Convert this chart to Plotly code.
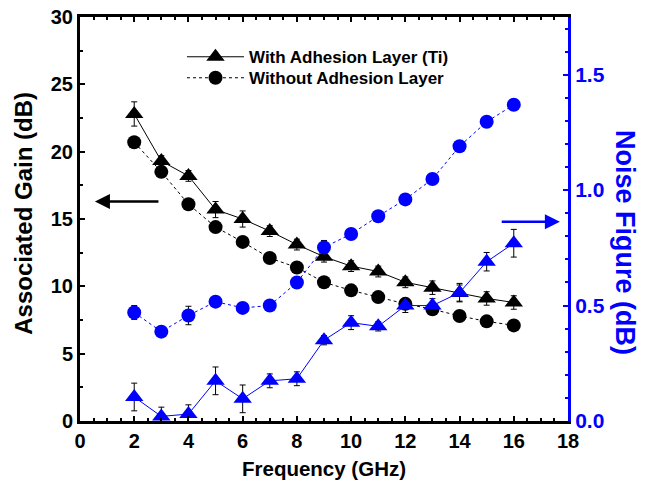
import plotly.graph_objects as go

freq = [2, 3, 4, 5, 6, 7, 8, 9, 10, 11, 12, 13, 14, 15, 16]
gain_with = [22.8, 19.3, 18.2, 15.7, 15.0, 14.1, 13.1, 12.2, 11.5, 11.1, 10.3, 9.9, 9.5, 9.1, 8.8]
gain_with_err = [0.9, 0.4, 0.4, 0.6, 0.6, 0.4, 0.4, 0.4, 0.4, 0.4, 0.4, 0.5, 0.6, 0.5, 0.5]
gain_without = [20.7, 18.5, 16.1, 14.4, 13.3, 12.1, 11.4, 10.3, 9.7, 9.2, 8.7, 8.3, 7.8, 7.4, 7.1]
gain_without_err = [0.2, 0.2, 0.2, 0.2, 0.2, 0.2, 0.2, 0.2, 0.2, 0.2, 0.2, 0.2, 0.2, 0.2, 0.2]
nf_without = [0.47, 0.387, 0.457, 0.517, 0.49, 0.50, 0.60, 0.752, 0.81, 0.887, 0.96, 1.048, 1.19, 1.296, 1.37]
nf_without_err = [0.03, 0.01, 0.04, 0.005, 0.01, 0.015, 0.015, 0.03, 0.02, 0.01, 0.01, 0.02, 0.01, 0.02, 0.015]
nf_with = [0.104, 0.02, 0.03, 0.174, 0.096, 0.174, 0.183, 0.35, 0.426, 0.41, 0.50, 0.50, 0.556, 0.69, 0.77]
nf_with_err = [0.06, 0.04, 0.04, 0.06, 0.06, 0.03, 0.03, 0.02, 0.03, 0.02, 0.03, 0.03, 0.04, 0.04, 0.06]

FONT = "Liberation Sans, Arial, sans-serif"
BLUE = "#0000ff"

fig = go.Figure()

fig.add_trace(go.Scatter(
    x=freq, y=nf_without, yaxis="y2", mode="lines+markers", showlegend=False,
    line=dict(color=BLUE, width=1, dash="dot"),
    marker=dict(symbol="circle", size=14, color=BLUE),
    error_y=dict(type="data", array=nf_without_err, color="black", thickness=1, width=3),
))
fig.add_trace(go.Scatter(
    x=freq, y=nf_with, yaxis="y2", mode="lines+markers", showlegend=False,
    line=dict(color=BLUE, width=1),
    marker=dict(symbol="triangle-up", size=16, color=BLUE),
    error_y=dict(type="data", array=nf_with_err, color="black", thickness=1, width=3),
))
fig.add_trace(go.Scatter(
    x=freq, y=gain_with, mode="lines+markers", name="With Adhesion Layer (Ti)",
    legend="legend",
    line=dict(color="black", width=1),
    marker=dict(symbol="triangle-up", size=16, color="black"),
    error_y=dict(type="data", array=gain_with_err, color="black", thickness=1, width=3),
))
fig.add_trace(go.Scatter(
    x=freq, y=gain_without, mode="lines+markers", name="Without Adhesion Layer",
    legend="legend2",
    line=dict(color="black", width=1, dash="dot"),
    marker=dict(symbol="circle", size=14, color="black"),
    error_y=dict(type="data", array=gain_without_err, color="black", thickness=1, width=3),
))

tickfont = dict(family=FONT, size=20, color="black", weight="bold")
legfont = dict(family=FONT, size=17, color="black", weight="bold")

fig.update_layout(
    width=648, height=493,
    margin=dict(l=80, r=80, t=17, b=72),
    paper_bgcolor="white", plot_bgcolor="white",
    font=dict(family=FONT, color="black"),
    xaxis=dict(
        range=[0, 18], dtick=2, showgrid=False, zeroline=False, automargin=False,
        showline=True, linecolor="black", linewidth=3, mirror="ticks",
        ticks="inside", ticklen=5, tickwidth=2, tickcolor="black",
        minor=dict(dtick=0.5, ticks="inside", ticklen=3, tickwidth=2, tickcolor="black"),
        tickfont=tickfont,
    ),
    yaxis=dict(
        range=[0, 30], dtick=5, showgrid=False, zeroline=False, automargin=False,
        showline=True, linecolor="black", linewidth=3,
        ticks="inside", ticklen=5, tickwidth=2, tickcolor="black",
        minor=dict(dtick=2.5, ticks="inside", ticklen=3, tickwidth=2, tickcolor="black"),
        tickfont=tickfont,
    ),
    yaxis2=dict(
        overlaying="y", side="right", range=[0, 1.75], dtick=0.5, tickformat=".1f",
        showgrid=False, zeroline=False, automargin=False,
        showline=True, linecolor=BLUE, linewidth=3,
        ticks="inside", ticklen=5, tickwidth=2, tickcolor=BLUE,
        minor=dict(dtick=0.1, ticks="inside", ticklen=3, tickwidth=2, tickcolor=BLUE),
        tickfont=dict(family=FONT, size=21, color=BLUE, weight="bold"),
    ),
    legend=dict(
        x=0.209, y=0.945, xanchor="left", yanchor="top",
        bgcolor="rgba(0,0,0,0)", borderwidth=0, font=legfont, itemwidth=57,
    ),
    legend2=dict(
        x=0.209, y=0.893, xanchor="left", yanchor="top",
        bgcolor="rgba(0,0,0,0)", borderwidth=0, font=legfont, itemwidth=57,
    ),
    showlegend=True,
)

fig.add_annotation(
    x=0.55, y=16.3, ax=2.95, ay=16.3, xref="x", yref="y", axref="x", ayref="y",
    text="", showarrow=True, arrowhead=2, arrowsize=1.2, arrowwidth=2.5, arrowcolor="black",
)
fig.add_annotation(
    x=17.7, y=14.8, ax=15.5, ay=14.8, xref="x", yref="y", axref="x", ayref="y",
    text="", showarrow=True, arrowhead=2, arrowsize=1.2, arrowwidth=2.5, arrowcolor=BLUE,
)
fig.add_annotation(
    x=0.0, y=0.513, xref="paper", yref="paper", xshift=-56, textangle=-90,
    xanchor="center", yanchor="middle",
    text="Associated Gain (dB)", showarrow=False,
    font=dict(family=FONT, size=24, color="black", weight="bold"),
)
fig.add_annotation(
    x=0.5, y=0.0, xref="paper", yref="paper", yshift=-47,
    xanchor="center", yanchor="middle",
    text="Frequency (GHz)", showarrow=False,
    font=dict(family=FONT, size=20.5, color="black", weight="bold"),
)
fig.add_annotation(
    x=1.0, y=0.443, xref="paper", yref="paper", xshift=57, textangle=90,
    xanchor="center", yanchor="middle",
    text="Noise Figure (dB)", showarrow=False,
    font=dict(family=FONT, size=27, color=BLUE, weight="bold"),
)

fig.write_html("out.html", post_script="document.body.style.margin='0px';",
               config={"displayModeBar": False})
